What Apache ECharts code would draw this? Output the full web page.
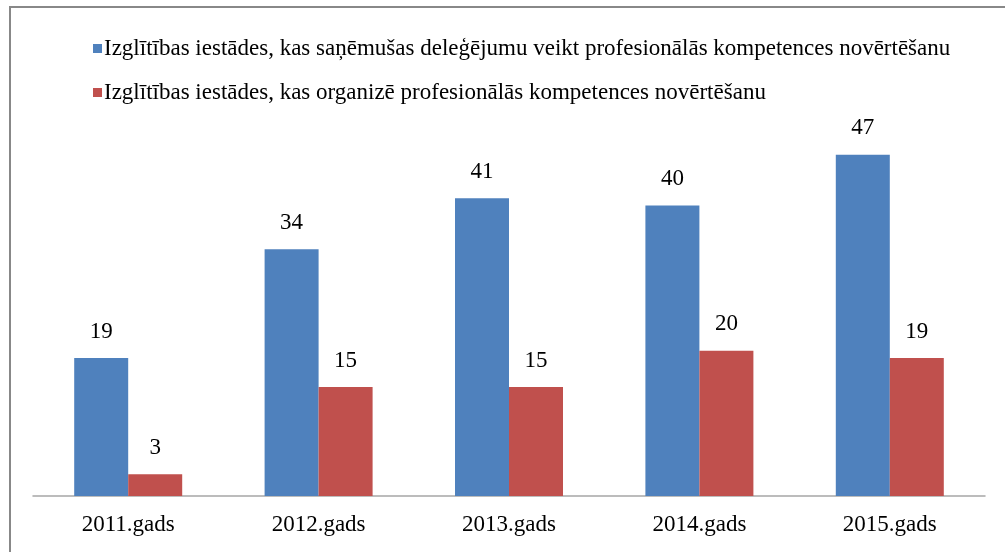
<!DOCTYPE html>
<html>
<head>
<meta charset="utf-8">
<script src="https://cdn.jsdelivr.net/npm/echarts@6/dist/echarts.min.js"></script>
<style>
  html, body { margin: 0; padding: 0; background: #fff; }
  #chart { width: 1005px; height: 552px; }
</style>
</head>
<body>
<div id="chart"></div>
<script>
const categories = ["2011.gads", "2012.gads", "2013.gads", "2014.gads", "2015.gads"];
const delegated = [19, 34, 41, 40, 47];
const organized = [3, 15, 15, 20, 19];
const seriesNames = [
  "Izglītības iestādes, kas saņēmušas deleģējumu veikt profesionālās kompetences novērtēšanu",
  "Izglītības iestādes, kas organizē profesionālās kompetences novērtēšanu"
];

const font = "'Liberation Serif', 'Times New Roman', serif";
const chart = echarts.init(document.getElementById("chart"));

const labelStyle = {
  show: true,
  position: "top",
  distance: 15,
  color: "#000",
  fontFamily: font,
  fontSize: 23
};

chart.setOption({
  animation: false,
  textStyle: { fontFamily: font },
  graphic: [
    {
      type: "rect",
      shape: { x: 10, y: 7, width: 1010, height: 560 },
      style: { fill: "none", stroke: "#888", lineWidth: 2 }
    }
  ],
  legend: {
    orient: "vertical",
    left: 88,
    top: 32,
    itemWidth: 9,
    itemHeight: 9,
    itemGap: 21,
    icon: "rect",
    textStyle: { color: "#000", fontSize: 23, fontFamily: font, padding: [0, 0, 0, -3] },
    data: seriesNames
  },
  grid: {
    left: 33,
    right: 20,
    top: 133,
    bottom: 56,
    containLabel: false
  },
  xAxis: {
    type: "category",
    data: categories,
    axisLine: { lineStyle: { color: "#A6A6A6", width: 1.5 } },
    axisTick: { show: false },
    axisLabel: { color: "#000", fontSize: 23, fontFamily: font, margin: 17 }
  },
  yAxis: {
    type: "value",
    min: 0,
    max: 50,
    show: false,
    splitLine: { show: false }
  },
  series: [
    {
      name: seriesNames[0],
      type: "bar",
      data: delegated,
      barWidth: 54,
      barGap: "0%",
      itemStyle: { color: "#4F81BD" },
      label: labelStyle
    },
    {
      name: seriesNames[1],
      type: "bar",
      data: organized,
      barWidth: 54,
      barGap: "0%",
      itemStyle: { color: "#C0504D" },
      label: labelStyle
    }
  ]
});
</script>
</body>
</html>
